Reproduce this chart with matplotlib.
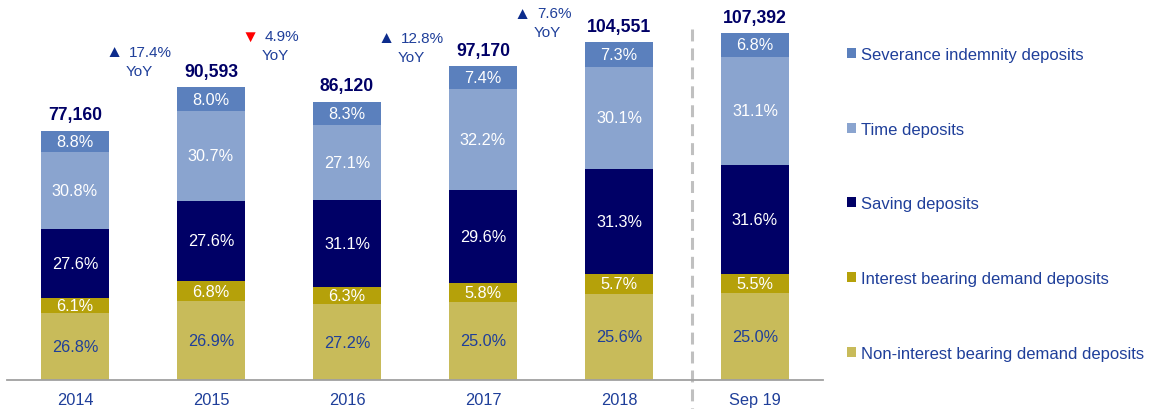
import matplotlib
matplotlib.use("Agg")
import matplotlib.pyplot as plt
from matplotlib.patches import Patch

plt.rcParams['font.family'] = ['Liberation Sans', 'DejaVu Sans']

# data
periods = ["2014", "2015", "2016", "2017", "2018", "Sep 19"]
totals = [77160, 90593, 86120, 97170, 104551, 107392]
yoy = [17.4, -4.9, 12.8, 7.6]

# shares in % (bottom to top)
non_interest = [26.8, 26.9, 27.2, 25.0, 25.6, 25.0]
interest = [6.1, 6.8, 6.3, 5.8, 5.7, 5.5]
saving = [27.6, 27.6, 31.1, 29.6, 31.3, 31.6]
time_dep = [30.8, 30.7, 27.1, 32.2, 30.1, 31.1]
severance = [8.8, 8.0, 8.3, 7.4, 7.3, 6.8]

series = [
    ("Non-interest bearing demand deposits", non_interest, "#c8bb5a"),
    ("Interest bearing demand deposits", interest, "#b5a10a"),
    ("Saving deposits", saving, "#000066"),
    ("Time deposits", time_dep, "#8aa4cf"),
    ("Severance indemnity deposits", severance, "#5b80bd"),
]

text_blue = "#1f3f9a"
navy = "#000066"

fig = plt.figure(figsize=(11.53, 4.10), dpi=100)
ax = fig.add_axes([7 / 1153, 29 / 410, 816 / 1153, 381 / 410])

x = list(range(len(periods)))
bottoms = [0.0] * len(periods)
handles = []
for i, (name, pcts, color) in enumerate(series):
    heights = [t * p / 100 for t, p in zip(totals, pcts)]
    ax.bar(x, heights, width=0.5, bottom=bottoms, color=color, linewidth=0)
    for xi, b, h, p in zip(x, bottoms, heights, pcts):
        ax.text(xi, b + h / 2, f"{p:.1f}%", ha='center', va='center',
                fontsize=11.7, color=text_blue if i == 0 else "white")
    bottoms = [b + h for b, h in zip(bottoms, heights)]
    handles.append(Patch(facecolor=color, label=name))

# totals above bars
for xi, t in zip(x, totals):
    ax.annotate(f"{t:,}", (xi, t), xytext=(0, 16), textcoords='offset pixels',
                ha='center', va='center', fontsize=12.7, fontweight='bold', color=navy)

# YoY growth between bars
yoy_y = [101600, 106500, 105900, 113600]
for i, (g, yy) in enumerate(zip(yoy, yoy_y)):
    xc = i + 0.47
    arrow = "▲" if g > 0 else "▼"
    acol = "#0d2c8c" if g > 0 else "#ff0000"
    ax.annotate(arrow, (xc, yy), xytext=(-25, 0), textcoords='offset pixels',
                ha='center', va='center', fontsize=12.5, color=acol)
    ax.annotate(f"{abs(g):.1f}%", (xc, yy), xytext=(-10, 0), textcoords='offset pixels',
                ha='left', va='center', fontsize=11, color=text_blue)
    ax.annotate("YoY", (xc, yy), xytext=(0, -19), textcoords='offset pixels',
                ha='center', va='center', fontsize=11, color=text_blue)

# separator before the interim period
ax.plot([4.54, 4.54], [108700, -9000], color="#c0c0c0", lw=2.2,
        dashes=(3.9, 2.3), clip_on=False)

ax.set_xlim(-0.5, 5.5)
ax.set_ylim(0, 117950)
ax.set_xticks(x)
ax.set_xticklabels(periods, fontsize=11.8, color=text_blue)
ax.tick_params(axis='x', length=0, pad=9)
ax.set_yticks([])
for s in ['top', 'right', 'left']:
    ax.spines[s].set_visible(False)
ax.spines['bottom'].set_color("#a0a0a0")
ax.spines['bottom'].set_linewidth(1.3)

leg = fig.legend(handles=handles[::-1], loc='upper left',
                 bbox_to_anchor=(847 / 1153, 1 - 48 / 410), frameon=False,
                 fontsize=12, handlelength=0.55, handleheight=0.55,
                 handletextpad=0.3, labelspacing=3.58, borderpad=0,
                 borderaxespad=0)
for t in leg.get_texts():
    t.set_color(text_blue)

fig.savefig("out.png", dpi=100)
